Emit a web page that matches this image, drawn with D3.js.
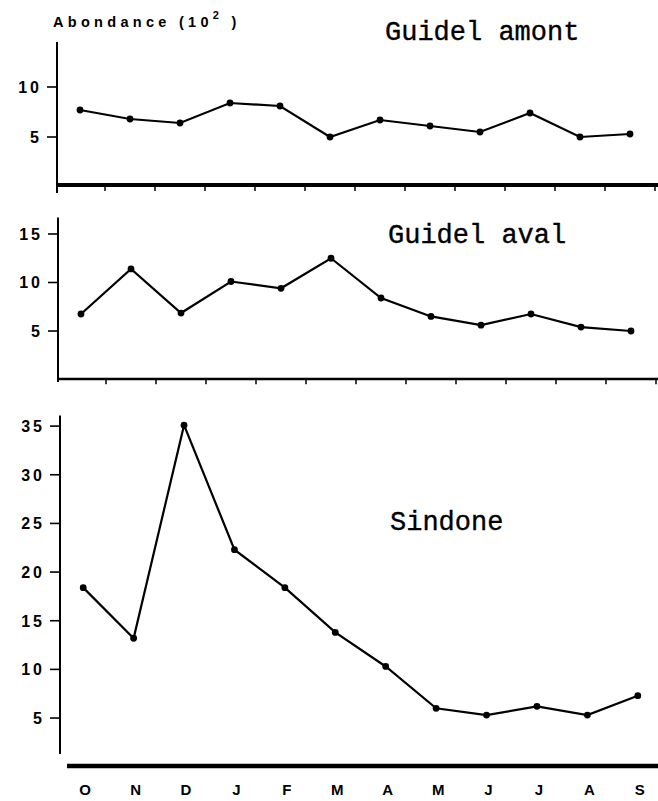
<!DOCTYPE html>
<html>
<head>
<meta charset="utf-8">
<script src="https://cdn.jsdelivr.net/npm/d3@7"></script>
<style>
  body { margin: 0; background: #fff; }
  svg { display: block; }
  .tick-label { font-family: "Liberation Sans", Arial, sans-serif; font-weight: bold; font-size: 16px; letter-spacing: 3px; }
  .month { font-family: "Liberation Sans", Arial, sans-serif; font-weight: bold; font-size: 15px; }
  .title { font-family: "Liberation Mono", "Courier New", monospace; font-size: 27px; stroke: #000; stroke-width: 0.35px; }
</style>
</head>
<body>
<svg></svg>
<script>
// months, oct -> sept
const months = ["O", "N", "D", "J", "F", "M", "A", "M", "J", "J", "A", "S"];
const monthKeys = months.map((m, i) => i);

// abundance (x 10^2)
const guidelAmont = [7.7, 6.8, 6.4, 8.4, 8.1, 5.0, 6.7, 6.1, 5.5, 7.4, 5.0, 5.3];
const guidelAval = [6.75, 11.4, 6.85, 10.1, 9.4, 12.5, 8.4, 6.5, 5.6, 6.75, 5.4, 5.0];
const sindone = [18.4, 13.2, 35.1, 22.3, 18.4, 13.8, 10.3, 6.0, 5.3, 6.2, 5.3, 7.3];

const ticksAmont = [5, 10];
const ticksAval = [5, 10, 15];
const ticksSindone = [5, 10, 15, 20, 25, 30, 35];

const width = 658, height = 801;
const svg = d3.select("svg").attr("width", width).attr("height", height);

function drawPanel(opts) {
  const g = svg.append("g");

  const x = d3.scaleBand().domain(monthKeys).range(opts.xRange).padding(0);
  const y = d3.scaleLinear().domain(opts.yDomain).range(opts.yRange);

  // y axis
  g.append("line")
    .attr("x1", opts.axisX).attr("x2", opts.axisX)
    .attr("y1", y(opts.yDomain[1])).attr("y2", opts.axisBottom)
    .attr("stroke", "#000").attr("stroke-width", 2);

  g.selectAll(".ytick")
    .data(opts.ticks)
    .enter()
    .append("line")
    .attr("x1", opts.axisX - 10).attr("x2", opts.axisX)
    .attr("y1", (d) => y(d)).attr("y2", (d) => y(d))
    .attr("stroke", "#000").attr("stroke-width", 1.6);

  g.selectAll(".tick-label")
    .data(opts.ticks)
    .enter()
    .append("text")
    .attr("class", "tick-label")
    .attr("x", opts.axisX - 15)
    .attr("y", (d) => y(d) + 6)
    .attr("text-anchor", "end")
    .text((d) => d);

  // x axis
  g.append("line")
    .attr("x1", opts.xAxisStart).attr("x2", width)
    .attr("y1", opts.xAxisY).attr("y2", opts.xAxisY)
    .attr("stroke", "#000").attr("stroke-width", opts.xAxisWidth);

  if (opts.xTicks) {
    const bounds = monthKeys.slice(1).map((k) => x(k)).concat([opts.xRange[1]]);
    g.selectAll(".xtick")
      .data(bounds)
      .enter()
      .append("line")
      .attr("x1", (d) => d).attr("x2", (d) => d)
      .attr("y1", opts.xAxisY).attr("y2", opts.xAxisY + opts.xAxisWidth / 2 + 4)
      .attr("stroke", "#000").attr("stroke-width", 1.5);
  }

  const cx = (d, i) => x(i) + x.bandwidth() / 2;

  const line = d3.line()
    .x((d, i) => cx(d, i))
    .y((d) => y(d));

  g.append("path")
    .datum(opts.values)
    .attr("d", line)
    .attr("fill", "none")
    .attr("stroke", "#000")
    .attr("stroke-width", 2.2);

  g.selectAll("circle")
    .data(opts.values)
    .enter()
    .append("circle")
    .attr("cx", cx)
    .attr("cy", (d) => y(d))
    .attr("r", 3.4)
    .attr("fill", "#000");

  g.append("text")
    .attr("class", "title")
    .attr("x", opts.titleX)
    .attr("y", opts.titleY)
    .text(opts.title);

  return x;
}

drawPanel({
  values: guidelAmont, ticks: ticksAmont, title: "Guidel amont",
  xRange: [55, 655], yDomain: [0, 14.5], yRange: [187, 42],
  axisX: 57, axisBottom: 193, xAxisStart: 57, xAxisY: 185, xAxisWidth: 4,
  xTicks: true, titleX: 385, titleY: 40,
});

drawPanel({
  values: guidelAval, ticks: ticksAval, title: "Guidel aval",
  xRange: [56, 656], yDomain: [0, 16.7], yRange: [379.5, 217.5],
  axisX: 58, axisBottom: 382, xAxisStart: 58, xAxisY: 379, xAxisWidth: 2.5,
  xTicks: true, titleX: 388, titleY: 243,
});

const xs = drawPanel({
  values: sindone, ticks: ticksSindone, title: "Sindone",
  xRange: [58, 663], yDomain: [0, 36.1], yRange: [766.7, 415.4],
  axisX: 60, axisBottom: 754, xAxisStart: 67, xAxisY: 766, xAxisWidth: 4.5,
  xTicks: false, titleX: 390, titleY: 530,
});

svg.selectAll(".month")
  .data(months)
  .enter()
  .append("text")
  .attr("class", "month")
  .attr("x", (d, i) => xs(i) + xs.bandwidth() / 2 + 2)
  .attr("y", 795)
  .attr("text-anchor", "middle")
  .text((d) => d);

// y label
const ylab = svg.append("text")
  .attr("x", 53)
  .attr("y", 27)
  .style("font-family", "'Liberation Sans', Arial, sans-serif")
  .style("font-weight", "bold")
  .style("font-size", "14.5px")
  .style("letter-spacing", "4.3px");
ylab.append("tspan").text("Abondance (10");
ylab.append("tspan").attr("dy", -8).style("font-size", "11px").text("2");
ylab.append("tspan").attr("dy", 8).text(" )");
</script>
</body>
</html>
